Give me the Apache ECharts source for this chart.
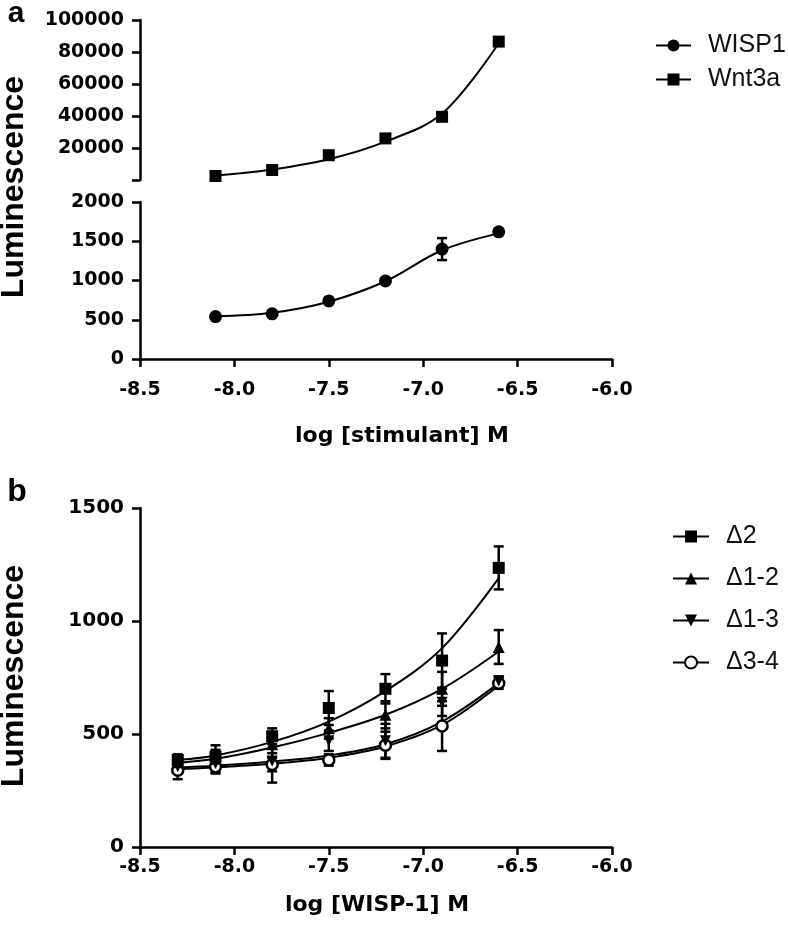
<!DOCTYPE html>
<html>
<head>
<meta charset="utf-8">
<script src="https://cdn.jsdelivr.net/npm/echarts@6/dist/echarts.min.js"></script>
<style>
html,body{margin:0;padding:0;background:#fff;}
#chart{width:788px;height:926px;}
</style>
</head>
<body>
<div id="chart"></div>
<script>
// ---------- Panel a data ----------
const xTicks = [-8.5, -8.0, -7.5, -7.0, -6.5, -6.0];
const xA = [-8.1, -7.8, -7.5, -7.2, -6.9, -6.6];
const wisp1 = [540, 575, 740, 995, 1400, 1620];
const wisp1Err = [15, 15, 25, 30, 140, 25];
const wisp1Fit = [545, 590, 730, 990, 1385, 1600];
const wnt3a = [2500, 6250, 15500, 26000, 39500, 86500];
const wnt3aErr = [500, 600, 800, 900, 1200, 2300];
const wnt3aFit = [2800, 6600, 13000, 24000, 41500, 85500];
const yTopTicks = [20000, 40000, 60000, 80000, 100000];
const yBotTicks = [0, 500, 1000, 1500, 2000];

// ---------- Panel b data ----------
const xB = [-8.3, -8.1, -7.8, -7.5, -7.2, -6.9, -6.6];
const d2 = [385, 400, 490, 615, 700, 825, 1235];
const d2Err = [25, 50, 35, 75, 65, 120, 95];
const d2Fit = [385, 405, 465, 555, 690, 880, 1190];
const d12 = [375, 390, 455, 525, 585, 700, 885];
const d12Err = [20, 40, 40, 45, 60, 75, 75];
const d12Fit = [372, 390, 440, 505, 585, 700, 865];
const d13 = [355, 370, 380, 470, 470, 640, 735];
const d13Err = [25, 40, 95, 45, 75, 60, 20];
const d13Fit = [352, 360, 378, 405, 455, 555, 725];
const d34 = [340, 355, 365, 385, 450, 535, 725];
const d34Err = [40, 30, 30, 25, 60, 110, 25];
const d34Fit = [345, 352, 368, 395, 445, 540, 715];
const yBTicks = [0, 500, 1000, 1500];
const namesA = ['WISP1', 'Wnt3a'];
const namesB = ['Δ2', 'Δ1-2', 'Δ1-3', 'Δ3-4'];

const FONT = "'Liberation Sans', Arial, sans-serif";
const TICKFONT = "'DejaVu Sans', sans-serif";
const BLACK = '#000';
const downTri = 'path://M0,0 L10,0 L5,9 Z';

function zip(xs, ys) { return xs.map((x, i) => [x, ys[i]]); }

function fitSeries(name, xi, yi, xs, ys, symbol, itemStyle) {
  return {
    type: 'line', name, xAxisIndex: xi, yAxisIndex: yi,
    data: zip(xs, ys), smooth: 0.35,
    showSymbol: false, symbol, symbolSize: 12,
    lineStyle: { color: BLACK, width: 2 },
    itemStyle: itemStyle || { color: BLACK },
    emphasis: { disabled: true }, silent: true, z: 2
  };
}
function pointSeries(name, xi, yi, xs, ys, symbol, size, itemStyle) {
  return {
    type: 'scatter', name: name + ' data', xAxisIndex: xi, yAxisIndex: yi,
    data: zip(xs, ys), symbol, symbolSize: size,
    itemStyle: Object.assign({ color: BLACK, opacity: 1 }, itemStyle || {}),
    emphasis: { disabled: true }, silent: true, z: 4
  };
}
function errSeries(name, xi, yi, xs, ys, es) {
  return {
    type: 'custom', name: name + ' err', xAxisIndex: xi, yAxisIndex: yi,
    data: xs.map((x, i) => [x, ys[i] - es[i], ys[i] + es[i]]),
    encode: { x: 0, y: [1, 2] }, silent: true, z: 3,
    renderItem: function (params, api) {
      const x = api.value(0);
      const lo = api.coord([x, api.value(1)]);
      const hi = api.coord([x, api.value(2)]);
      const w = 5;
      const st = { stroke: BLACK, lineWidth: 2.5 };
      return {
        type: 'group', children: [
          { type: 'line', shape: { x1: lo[0], y1: lo[1], x2: hi[0], y2: hi[1] }, style: st },
          { type: 'line', shape: { x1: lo[0] - w, y1: lo[1], x2: lo[0] + w, y2: lo[1] }, style: st },
          { type: 'line', shape: { x1: hi[0] - w, y1: hi[1], x2: hi[0] + w, y2: hi[1] }, style: st }
        ]
      };
    }
  };
}

const axisLine = { show: true, lineStyle: { color: BLACK, width: 2.5 } };
const axisTick = { show: true, length: 8, lineStyle: { color: BLACK, width: 2.5 } };
const tickLabel = { color: BLACK, fontFamily: TICKFONT, fontSize: 19, fontWeight: 'bold' };

function xAxisDef(gridIndex, show, margin) {
  return {
    type: 'value', gridIndex, min: xTicks[0], max: xTicks[xTicks.length - 1], interval: 0.5,
    show, splitLine: { show: false }, axisLine, axisTick,
    axisLabel: Object.assign({ show: true, margin, formatter: v => v.toFixed(1) }, tickLabel)
  };
}

const openCircle = { color: '#fff', borderColor: BLACK, borderWidth: 2.5 };

const option = {
  backgroundColor: '#fff',
  animation: false,
  grid: [
    { left: 140, width: 472, top: 20, height: 160 },
    { left: 140, width: 472, top: 202, height: 157 },
    { left: 140, width: 472, top: 508, height: 339 }
  ],
  xAxis: [
    xAxisDef(0, false, 20),
    xAxisDef(1, true, 22),
    xAxisDef(2, true, 11)
  ],
  yAxis: [
    { type: 'value', gridIndex: 0, min: 0, max: yTopTicks[yTopTicks.length - 1], interval: 20000,
      splitLine: { show: false }, axisLine, axisTick,
      axisLabel: Object.assign({ margin: 16,
        formatter: v => (yTopTicks.indexOf(v) >= 0 ? String(v) : '') }, tickLabel) },
    { type: 'value', gridIndex: 1, min: yBotTicks[0], max: yBotTicks[yBotTicks.length - 1], interval: 500,
      splitLine: { show: false }, axisLine, axisTick,
      axisLabel: Object.assign({ margin: 16, formatter: v => String(v) }, tickLabel) },
    { type: 'value', gridIndex: 2, min: yBTicks[0], max: yBTicks[yBTicks.length - 1], interval: 500,
      splitLine: { show: false }, axisLine, axisTick,
      axisLabel: Object.assign({ margin: 16, formatter: v => String(v) }, tickLabel, { fontSize: 20 }) }
  ],
  legend: [
    { data: namesA, orient: 'vertical', left: 650, top: 28, itemWidth: 35, itemHeight: 15, itemGap: 9,
      selectedMode: false,
      textStyle: { color: '#111', fontFamily: FONT, fontSize: 25, padding: [0, 0, 0, 12] } },
    { data: namesB, orient: 'vertical', left: 667, top: 519, itemWidth: 36, itemHeight: 15, itemGap: 17,
      selectedMode: false,
      textStyle: { color: '#111', fontFamily: FONT, fontSize: 25, padding: [0, 0, 0, 12] } }
  ],
  graphic: [
    { type: 'text', x: 16, y: 14, style: { text: 'a', font: "bold 30px 'Liberation Sans', Arial", fill: BLACK, align: 'center', verticalAlign: 'middle' } },
    { type: 'text', x: 17, y: 492, style: { text: 'b', font: "bold 32px 'Liberation Sans', Arial", fill: BLACK, align: 'center', verticalAlign: 'middle' } },
    { type: 'text', x: 14, y: 187, rotation: Math.PI / 2, style: { text: 'Luminescence', font: "bold 32px 'Liberation Sans', Arial", fill: BLACK, align: 'center', verticalAlign: 'middle' } },
    { type: 'text', x: 14, y: 676, rotation: Math.PI / 2, style: { text: 'Luminescence', font: "bold 32px 'Liberation Sans', Arial", fill: BLACK, align: 'center', verticalAlign: 'middle' } },
    { type: 'text', x: 402, y: 436, style: { text: 'log [stimulant] M', font: "bold 22px 'DejaVu Sans', sans-serif", fill: BLACK, align: 'center', verticalAlign: 'middle' } },
    { type: 'text', x: 377, y: 905, style: { text: 'log [WISP-1] M', font: "bold 22px 'DejaVu Sans', sans-serif", fill: BLACK, align: 'center', verticalAlign: 'middle' } }
  ],
  series: [
    // Panel a
    fitSeries('WISP1', 1, 1, xA, wisp1Fit, 'circle'),
    errSeries('WISP1', 1, 1, xA, wisp1, wisp1Err),
    pointSeries('WISP1', 1, 1, xA, wisp1, 'circle', 13),
    fitSeries('Wnt3a', 0, 0, xA, wnt3aFit, 'rect'),
    errSeries('Wnt3a', 0, 0, xA, wnt3a, wnt3aErr),
    pointSeries('Wnt3a', 0, 0, xA, wnt3a, 'rect', 12),
    // Panel b
    fitSeries('Δ2', 2, 2, xB, d2Fit, 'rect'),
    fitSeries('Δ1-2', 2, 2, xB, d12Fit, 'triangle'),
    fitSeries('Δ1-3', 2, 2, xB, d13Fit, downTri),
    fitSeries('Δ3-4', 2, 2, xB, d34Fit, 'circle', openCircle),
    errSeries('Δ2', 2, 2, xB, d2, d2Err),
    errSeries('Δ1-2', 2, 2, xB, d12, d12Err),
    errSeries('Δ1-3', 2, 2, xB, d13, d13Err),
    errSeries('Δ3-4', 2, 2, xB, d34, d34Err),
    pointSeries('Δ3-4', 2, 2, xB, d34, 'circle', 11, openCircle),
    pointSeries('Δ1-3', 2, 2, xB, d13, downTri, 11),
    pointSeries('Δ1-2', 2, 2, xB, d12, 'triangle', 12),
    pointSeries('Δ2', 2, 2, xB, d2, 'rect', 12)
  ]
};

const chart = echarts.init(document.getElementById('chart'), null, { renderer: 'canvas' });
chart.setOption(option);
</script>
</body>
</html>
